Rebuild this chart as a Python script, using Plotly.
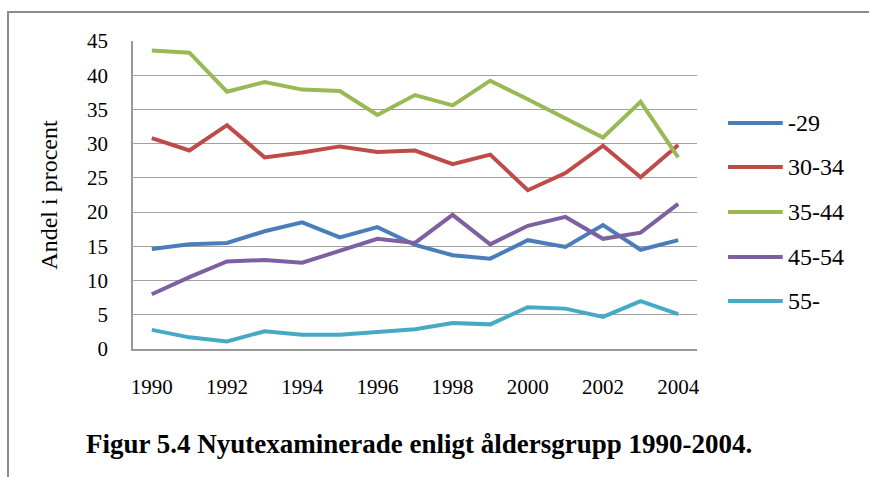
"""Nyutexaminerade enligt åldersgrupp 1990-2004."""

import plotly.graph_objects as go

years = [str(y) for y in range(1990, 2005)]
year_ticks = [str(y) for y in range(1990, 2005, 2)]

# Andel i procent per åldersgrupp
age_groups = ["-29", "30-34", "35-44", "45-54", "55-"]
under_29 = [14.6, 15.3, 15.5, 17.2, 18.5, 16.3, 17.8, 15.2, 13.7, 13.2, 15.9, 14.9, 18.1, 14.5, 15.9]
age_30_34 = [30.8, 29.0, 32.7, 28.0, 28.7, 29.6, 28.8, 29.0, 27.0, 28.4, 23.2, 25.7, 29.7, 25.1, 29.8]
age_35_44 = [43.6, 43.3, 37.6, 39.0, 37.9, 37.7, 34.2, 37.1, 35.6, 39.2, 36.5, 33.7, 30.9, 36.1, 28.0]
age_45_54 = [8.0, 10.5, 12.8, 13.0, 12.6, 14.3, 16.1, 15.5, 19.6, 15.3, 18.0, 19.3, 16.1, 17.0, 21.2]
over_55 = [2.8, 1.7, 1.1, 2.6, 2.1, 2.1, 2.5, 2.9, 3.8, 3.6, 6.1, 5.9, 4.7, 7.0, 5.1]

series = [under_29, age_30_34, age_35_44, age_45_54, over_55]
colors = ["#4A7EBB", "#BE4B48", "#98B954", "#7D60A0", "#46AAC5"]

serif = "Liberation Serif, Times New Roman, serif"

fig = go.Figure()
for name, values, color in zip(age_groups, series, colors):
    fig.add_trace(go.Scatter(
        x=years, y=values, name=name, mode="lines",
        line=dict(color=color, width=4),
    ))

fig.update_layout(
    width=869, height=477,
    margin=dict(l=133, r=172, t=41, b=128),
    plot_bgcolor="white", paper_bgcolor="white",
    showlegend=False,
    font=dict(family=serif, size=21, color="black"),
    xaxis=dict(
        type="category", range=[-0.5, 14.5],
        tickmode="array", tickvals=year_ticks, ticktext=year_ticks,
        showgrid=False, showline=True, linecolor="#999999", linewidth=1.5,
        ticks="", ticklabelstandoff=18,
    ),
    yaxis=dict(
        range=[0, 45], dtick=5,
        showgrid=True, gridcolor="#A0A0A0", gridwidth=1.3,
        showline=True, linecolor="#999999", linewidth=1.5,
        zeroline=False, ticks="", ticklabelstandoff=19,
        title=dict(text="Andel i procent", font=dict(size=24), standoff=23),
    ),
)

# legend drawn by hand so the line samples get the original length
legend_y = [123, 167, 212, 257, 301]
for name, color, py in zip(age_groups, colors, legend_y):
    yp = (349 - py) / 308
    fig.add_shape(type="line", xref="paper", yref="paper",
                  x0=1.055, x1=1.152, y0=yp, y1=yp,
                  line=dict(color=color, width=4))
    fig.add_annotation(text=name, xref="paper", yref="paper",
                       x=1.158, y=yp, xanchor="left", yanchor="middle",
                       showarrow=False, font=dict(size=24))

# outer frame (top and left edges visible)
fig.add_shape(type="rect", xref="paper", yref="paper",
              x0=-0.2216, x1=1.33, y0=-0.47, y1=1.0942,
              line=dict(color="#8C8C8C", width=2), layer="below")

fig.add_annotation(
    text="<b>Figur 5.4 Nyutexaminerade enligt åldersgrupp 1990-2004.</b>",
    xref="paper", yref="paper", x=(419 - 133) / 564, y=(349 - 444) / 308,
    xanchor="center", yanchor="middle", showarrow=False,
    font=dict(size=27),
)

fig.write_html("out.html", config={"displayModeBar": False},
               post_script="document.body.style.margin='0';")
